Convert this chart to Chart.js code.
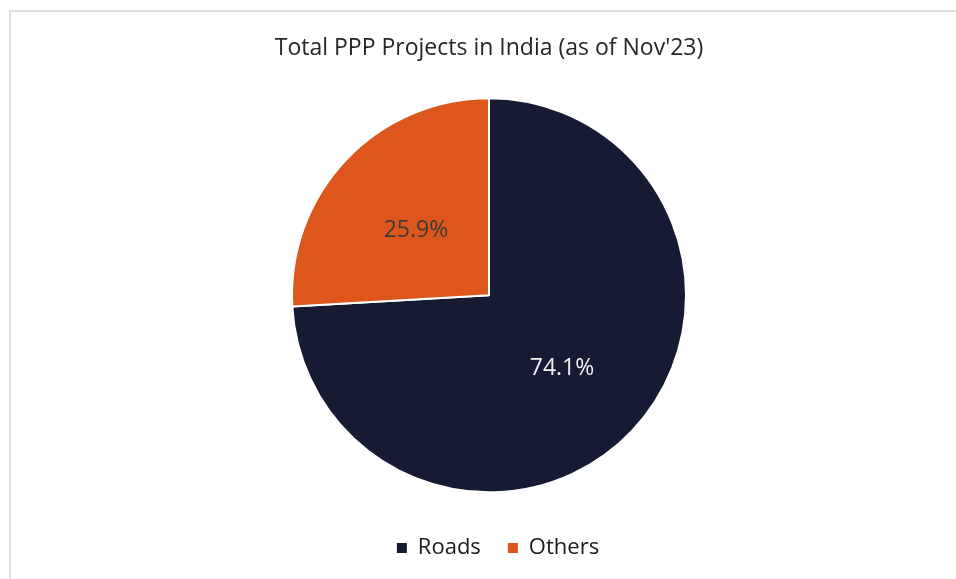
<!DOCTYPE html>
<html>
<head>
<meta charset="utf-8">
<script src="https://cdn.jsdelivr.net/npm/chart.js@4/dist/chart.umd.min.js"></script>
<style>
    html, body {
        margin: 0;
        padding: 0;
        background: #ffffff;
        overflow: hidden;
    }
    #frame {
        position: absolute;
        left: 9px;
        top: 10px;
        width: 1000px;
        height: 600px;
        border: 2px solid #e0e0e0;
    }
    #wrap {
        position: absolute;
        left: 0;
        top: 0;
        width: 956px;
        height: 579px;
    }
</style>
</head>
<body>
<div id="frame"></div>
<div id="wrap"><canvas id="ppp_chart"></canvas></div>
<script>
const chartTitle = "Total PPP Projects in India (as of Nov'23)";
const categories = ['Roads', 'Others'];
const shares = [74.1, 25.9];
const sliceColors = ['#161b33', '#dd561c'];
const labelColors = ['#f2f2f2', '#3a3a3a'];

// draws the percentage inside each slice
const sliceLabels = {
    id: 'sliceLabels',
    afterDatasetsDraw(chart) {
        const ctx = chart.ctx;
        const meta = chart.getDatasetMeta(0);
        ctx.save();
        ctx.font = '23px "Open Sans"';
        ctx.textAlign = 'center';
        ctx.textBaseline = 'middle';
        meta.data.forEach((arc, i) => {
            const p = arc.getProps(['x', 'y', 'startAngle', 'endAngle', 'outerRadius'], true);
            const mid = (p.startAngle + p.endAngle) / 2;
            const r = p.outerRadius * 0.51;
            ctx.fillStyle = labelColors[i];
            ctx.fillText(shares[i].toFixed(1) + '%', p.x + Math.cos(mid) * r, p.y + Math.sin(mid) * r + 4);
        });
        ctx.restore();
    }
};

// legend sits a little right of the pie centre in the original
const legendShift = {
    id: 'legendShift',
    afterLayout(chart) {
        chart.legend.left += 9;
        chart.legend.right += 9;
    }
};

const pppChartCanvas = document.getElementById('ppp_chart');
const pppChartConfig = {
    type: 'pie',
    data: {
        labels: categories,
        datasets: [{
            data: shares,
            backgroundColor: sliceColors,
            borderColor: '#ffffff',
            borderWidth: 2,
        }],
    },
    options: {
        responsive: true,
        maintainAspectRatio: false,
        animation: {
            duration: 0,
        },
        radius: 197,
        layout: {
            padding: {
                left: 22,
                right: 0,
                top: 0,
                bottom: 10,
            },
        },
        plugins: {
            title: {
                display: true,
                text: chartTitle,
                color: '#262626',
                font: {
                    family: 'Open Sans',
                    size: 23,
                    weight: 'normal',
                },
                padding: {
                    top: 35,
                    bottom: 18,
                },
            },
            legend: {
                position: 'bottom',
                labels: {
                    color: '#1a1a1a',
                    font: {
                        family: 'Open Sans',
                        size: 22,
                    },
                    boxWidth: 10,
                    boxHeight: 10,
                    usePointStyle: true,
                    pointStyle: 'rect',
                    padding: 27,
                    generateLabels(chart) {
                        const items = Chart.overrides.pie.plugins.legend.labels.generateLabels(chart);
                        return items.map((item) => {
                            item.lineWidth = 0;
                            item.strokeStyle = item.fillStyle;
                            return item;
                        });
                    },
                },
            },
            tooltip: {
                enabled: false,
            },
        },
    },
    plugins: [sliceLabels, legendShift],
};
const pppChart = new Chart(pppChartCanvas, pppChartConfig);
</script>
</body>
</html>
